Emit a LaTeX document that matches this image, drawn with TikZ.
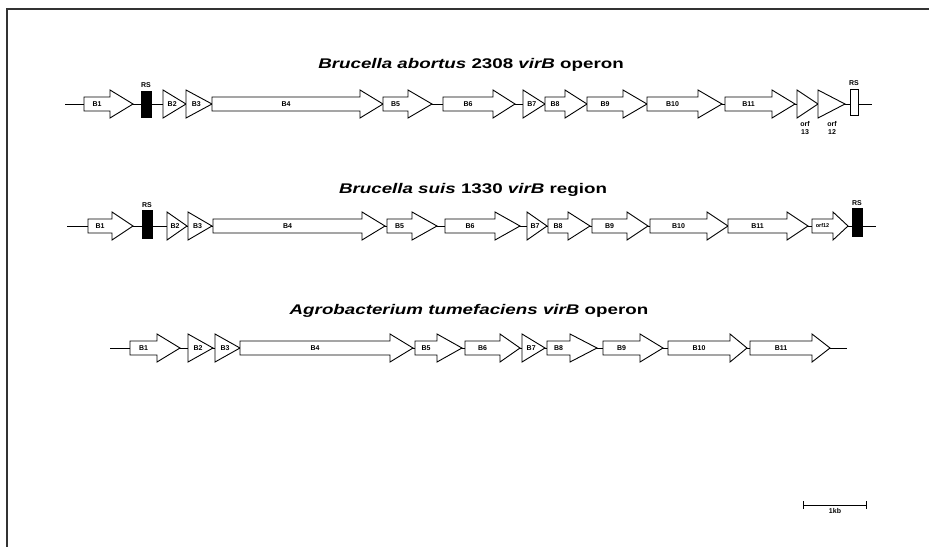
\documentclass[tikz,border=0pt]{standalone}
\usepackage{fontspec}
\usepackage{graphicx}
\setmainfont{Liberation Sans}
\usetikzlibrary{positioning,calc}
\tikzset{
  gene/.style={draw, fill=white, line width=0.9pt, line join=miter},
  axis/.style={line width=1pt},
  rsbox/.style={draw, line width=0.9pt, minimum width=10pt, minimum height=26pt, inner sep=0pt},
  glabel/.style={font=\fontsize{7}{8}\selectfont\bfseries, inner sep=0pt},
  title/.style={font=\fontsize{14}{16}\selectfont\bfseries, inner sep=0pt},
  frame/.style={line width=1.6pt, black!80},
}
% gene arrow: name, y, start, body end, tip, label
\newcommand{\gene}[6]{%
  \draw[gene] (#3,#2-7) -- (#4,#2-7) -- (#4,#2-14) -- (#5,#2) -- (#4,#2+14) -- (#4,#2+7) -- (#3,#2+7) -- cycle;
  \node[glabel] (#1) at ({ifthenelse(#4-#3<8,#3+0.4*(#5-#3),(#3+#4)/2)},#2) {#6};}
\newcommand{\wide}[1]{\scalebox{1.34}[1]{#1}}

\begin{document}
\begin{tikzpicture}[x=1pt, y=-1pt]
  \useasboundingbox (0,0) rectangle (929,547);

  % frame
  \coordinate (ftr) at (929,9);
  \coordinate (ftl) at (7,9);
  \coordinate (fbl) at (7,547);
  \draw[frame] (ftr) -- (ftl) -- (fbl);

  % Brucella abortus
  \node[title] (t1) at (471,65) {\wide{\textit{Brucella abortus} 2308 \textit{virB} operon}};
  \coordinate (a1s) at (65,104);
  \coordinate (a1e) at (872,104);
  \draw[axis] (a1s) -- (a1e);
  \gene{a1}{104}{84}{110}{133}{B1}
  \node[rsbox, fill=black] (rs1) at (146,104) {};
  \node[glabel, above=3pt of rs1] (rs1l) {RS};
  \gene{a2}{104}{163}{163}{186}{B2}
  \gene{a3}{104}{186}{186}{212}{B3}
  \gene{a4}{104}{212}{360}{383}{B4}
  \gene{a5}{104}{383}{408}{432}{B5}
  \gene{a6}{104}{443}{493}{515}{B6}
  \gene{a7}{104}{523}{523}{545}{B7}
  \gene{a8}{104}{545}{565}{587}{B8}
  \gene{a9}{104}{587}{623}{647}{B9}
  \gene{a10}{104}{647}{698}{722}{B10}
  \gene{a11}{104}{725}{772}{795}{B11}
  \gene{a12}{104}{797}{797}{818}{}
  \gene{a13}{104}{818}{818}{845}{}
  \node[glabel, align=center] (o13) at (805,128) {orf\\13};
  \node[glabel, align=center] (o12) at (832,128) {orf\\12};
  \node[rsbox, fill=white, minimum width=8pt] (rs2) at (854,102) {};
  \node[glabel, above=3pt of rs2] (rs2l) {RS};

  % Brucella suis
  \node[title] (t2) at (473,190) {\wide{\textit{Brucella suis} 1330 \textit{virB} region}};
  \coordinate (b1s) at (67,226);
  \coordinate (b1e) at (876,226);
  \draw[axis] (b1s) -- (b1e);
  \gene{b1}{226}{88}{112}{133}{B1}
  \node[rsbox, fill=black, minimum height=28pt] (rs3) at (147,224) {};
  \node[glabel, above=2pt of rs3] (rs3l) {RS};
  \gene{b2}{226}{167}{167}{187}{B2}
  \gene{b3}{226}{188}{188}{212}{B3}
  \gene{b4}{226}{213}{362}{385}{B4}
  \gene{b5}{226}{387}{412}{437}{B5}
  \gene{b6}{226}{445}{495}{520}{B6}
  \gene{b7}{226}{527}{527}{547}{B7}
  \gene{b8}{226}{548}{568}{590}{B8}
  \gene{b9}{226}{592}{627}{648}{B9}
  \gene{b10}{226}{650}{707}{728}{B10}
  \gene{b11}{226}{728}{787}{808}{B11}
  \gene{b12}{226}{812}{833}{848}{\fontsize{5.5}{6}\selectfont orf12}
  \node[rsbox, fill=black, minimum height=28pt] (rs4) at (857,222) {};
  \node[glabel, above=2pt of rs4] (rs4l) {RS};

  % Agrobacterium tumefaciens
  \node[title] (t3) at (469,311) {\wide{\textit{Agrobacterium tumefaciens virB} operon}};
  \coordinate (c1s) at (110,348);
  \coordinate (c1e) at (847,348);
  \draw[axis] (c1s) -- (c1e);
  \gene{c1}{348}{130}{157}{180}{B1}
  \gene{c2}{348}{188}{188}{213}{B2}
  \gene{c3}{348}{215}{215}{240}{B3}
  \gene{c4}{348}{240}{390}{413}{B4}
  \gene{c5}{348}{415}{437}{462}{B5}
  \gene{c6}{348}{465}{500}{520}{B6}
  \gene{c7}{348}{522}{522}{545}{B7}
  \gene{c8}{348}{547}{570}{597}{B8}
  \gene{c9}{348}{603}{640}{663}{B9}
  \gene{c10}{348}{668}{730}{747}{B10}
  \gene{c11}{348}{750}{812}{830}{B11}

  % scale bar
  \coordinate (sb1) at (803,505);
  \coordinate (sb2) at (867,505);
  \coordinate (sbm) at ($(sb1)!0.5!(sb2)$);
  \draw[|-|, line width=0.9pt] (sb1) -- (sb2);
  \node[glabel, below=3pt of sbm] (sbl) {1kb};
\end{tikzpicture}
\end{document}
